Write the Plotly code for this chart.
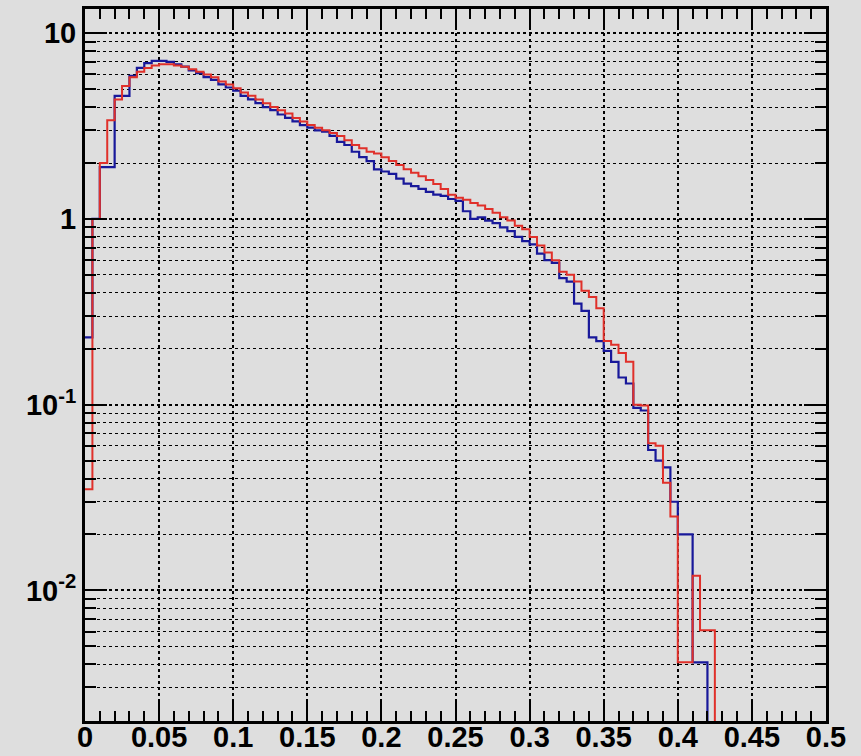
import numpy as np
import plotly.graph_objects as go

# ---- data (bin width 0.005, bins starting at 0) ----
bin_width = 0.005
n_bins = 100

red_vals = [0.035, 1.0, 2.0, 3.4, 4.4, 5.2, 5.8, 6.2, 6.5, 6.7,
            6.8, 6.8, 6.7, 6.6, 6.4, 6.2, 6.0, 5.8, 5.5, 5.3,
            5.05, 4.8, 4.6, 4.4, 4.2, 4.0, 3.85, 3.7, 3.5, 3.35,
            3.2, 3.1, 3.0, 2.9, 2.8, 2.65, 2.5, 2.4, 2.3, 2.25,
            2.15, 2.05, 1.95, 1.85, 1.77, 1.7, 1.62, 1.54, 1.45, 1.35,
            1.30, 1.27, 1.22, 1.18, 1.13, 1.08, 1.02, 0.98, 0.92, 0.88,
            0.80, 0.72, 0.66, 0.60, 0.52, 0.50, 0.46, 0.41, 0.38, 0.33,
            0.22, 0.21, 0.19, 0.17, 0.10, 0.099, 0.062, 0.060, 0.038, 0.025,
            0.0041, 0.0041, 0.012, 0.0061, 0.0061]

blue_vals = [0.23, 1.0, 1.9, 1.9, 4.6, 4.6, 5.9, 6.5, 6.9, 7.1,
             7.1, 7.0, 6.8, 6.6, 6.3, 6.1, 5.8, 5.6, 5.3, 5.1,
             4.9, 4.6, 4.4, 4.2, 4.0, 3.85, 3.65, 3.5, 3.35, 3.2,
             3.1, 3.0, 2.95, 2.8, 2.6, 2.5, 2.3, 2.15, 2.05, 1.85,
             1.8, 1.75, 1.65, 1.55, 1.5, 1.45, 1.4, 1.35, 1.33, 1.28,
             1.25, 1.1, 1.0, 1.02, 0.98, 0.95, 0.9, 0.86, 0.8, 0.76,
             0.73, 0.65, 0.6, 0.58, 0.48, 0.46, 0.35, 0.32, 0.23, 0.22,
             0.195, 0.17, 0.14, 0.13, 0.096, 0.093, 0.057, 0.05, 0.046, 0.03,
             0.02, 0.02, 0.0041, 0.0041]

y_tick_vals = [0.01, 0.1, 1, 10]
y_tick_text = ["10<sup>-2</sup>", "10<sup>-1</sup>", "1", "10"]

# ---- build step outlines ----
edges = np.round(np.arange(n_bins + 1) * bin_width, 6)


def step_y(vals):
    full = list(vals) + [0.0] * (n_bins - len(vals))
    full = [v if v > 0 else 1e-9 for v in full]
    return full + [full[-1]]


minor_y = [m * 10.0 ** e for e in range(-3, 2) for m in range(2, 10)]

fig = go.Figure()
fig.add_trace(go.Scatter(x=edges, y=step_y(blue_vals), mode="lines",
                         line=dict(shape="hv", color="#18189a", width=2.2),
                         showlegend=False))
fig.add_trace(go.Scatter(x=edges, y=step_y(red_vals), mode="lines",
                         line=dict(shape="hv", color="#e0302a", width=2),
                         showlegend=False))

tick_font = dict(family="Liberation Sans, Arial, sans-serif", size=29,
                 color="black", weight="bold")

fig.update_layout(
    width=861, height=756,
    margin=dict(l=85, r=35, t=9, b=35),
    paper_bgcolor="#dedede",
    plot_bgcolor="#dedede",
    showlegend=False,
)

fig.update_xaxes(
    range=[0, 0.5], dtick=0.05, tick0=0,
    showline=True, linecolor="black", linewidth=3, mirror="ticks",
    ticks="inside", ticklen=20, tickwidth=2, tickcolor="black",
    showgrid=True, gridcolor="black", gridwidth=1.5, griddash="3px,3px",
    zeroline=False, tickfont=tick_font, automargin=False,
    ticklabelstandoff=-12,
    minor=dict(dtick=0.01, ticks="inside", ticklen=10, tickwidth=2,
               tickcolor="black", showgrid=False),
)

fig.update_yaxes(
    type="log", range=[np.log10(0.00198), np.log10(13.5)],
    tickmode="array", tickvals=y_tick_vals, ticktext=y_tick_text,
    showline=True, linecolor="black", linewidth=3, mirror="ticks",
    ticks="inside", ticklen=22, tickwidth=2, tickcolor="black",
    showgrid=True, gridcolor="black", gridwidth=1.5, griddash="3px,3px",
    zeroline=False, tickfont=tick_font, automargin=False,
    minor=dict(tickmode="array", tickvals=minor_y, ticks="inside", ticklen=11,
               tickwidth=2, tickcolor="black", showgrid=True,
               gridcolor="black", gridwidth=1.2, griddash="3px,3px"),
)

fig.write_html("out.html")
